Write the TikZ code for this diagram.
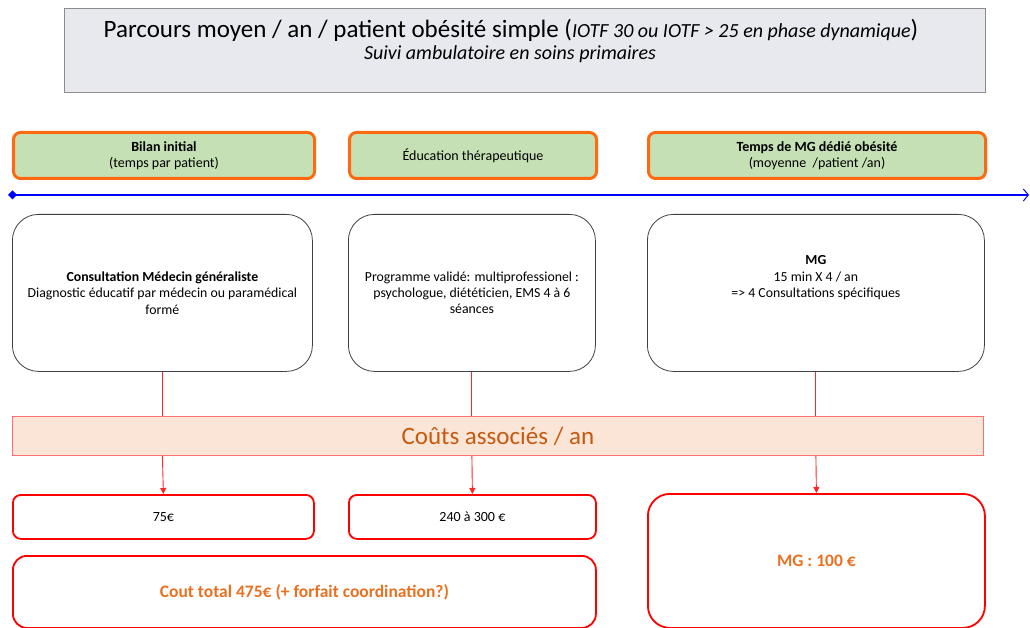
\documentclass[tikz,border=0pt]{standalone}
\usepackage{fontspec}
\setmainfont{Carlito}
\usetikzlibrary{arrows.meta,positioning}
\definecolor{titlefill}{HTML}{E7E9EE}
\definecolor{titledraw}{HTML}{8C8C8C}
\definecolor{greenfill}{HTML}{C5E0B4}
\definecolor{orangedraw}{HTML}{FF6A10}
\definecolor{bandfill}{HTML}{FBE5D6}
\definecolor{banddraw}{HTML}{FF7070}
\definecolor{orangetext}{HTML}{C55A11}
\definecolor{boldorange}{HTML}{E97020}
\definecolor{timeline}{HTML}{0000FF}
\tikzset{
  x=1pt, y=-1pt,
  box/.style={anchor=north west, inner sep=0pt, align=center},
  titlebox/.style={box, fill=titlefill, draw=titledraw, line width=0.8pt},
  greenbox/.style={box, fill=greenfill, draw=orangedraw, line width=3pt, rounded corners=7pt, font=\fontsize{14}{16}\selectfont},
  whitebox/.style={box, draw=black!75, line width=0.8pt, rounded corners=26pt, font=\fontsize{13.8}{16.3}\selectfont},
  costbox/.style={box, draw=red, line width=1.8pt, rounded corners=8pt, font=\fontsize{14}{16}\selectfont},
  bigcost/.style={box, draw=red, line width=1.8pt, rounded corners=22pt, font=\bfseries\fontsize{17.5}{20}\selectfont, text=boldorange},
  band/.style={box, fill=bandfill, draw=banddraw, line width=0.8pt, font=\fontsize{25}{28}\selectfont, text=orangetext},
  link/.style={draw=red!85, line width=0.9pt},
  arr/.style={link, -{Triangle[length=6pt,width=6pt]}},
}
\begin{document}
\begin{tikzpicture}
\useasboundingbox (0,0) rectangle (1030,628);
% title
\node[titlebox, minimum width=921pt, minimum height=84pt] (title) at (64,8) {};
\node[font=\fontsize{25}{28}\selectfont] (t1) at (511,30) {Parcours moyen / an / patient obésité simple ({\itshape\fontsize{20}{22}\selectfont IOTF 30 ou IOTF > 25 en phase dynamique})};
\node[font=\itshape\fontsize{20}{22}\selectfont] (t2) at (510,54) {Suivi ambulatoire en soins primaires};
% green headers
\node[greenbox, minimum width=301pt, minimum height=46pt] (g1) at (12,131) {\textbf{Bilan initial}\\(temps par patient)};
\node[greenbox, minimum width=247pt, minimum height=46pt] (g2) at (348,131) {Éducation thérapeutique};
\node[greenbox, minimum width=337pt, minimum height=46pt] (g3) at (647,131) {\textbf{Temps de MG dédié obésité}\\(moyenne\ \ /patient /an)};
% timeline
\coordinate (tl) at (8,195);
\coordinate (tr) at (1029,195);
\draw[timeline, line width=2.6pt, {Diamond[length=9pt,width=9pt]}-{Straight Barb[length=5pt,width=12pt,line width=1pt]}] (tl) -- (tr);
% white boxes
\node[whitebox, minimum width=300pt, minimum height=157pt] (b1) at (12,214) {\textbf{Consultation Médecin généraliste}\\Diagnostic éducatif par médecin ou paramédical\\formé};
\node[whitebox, minimum width=247pt, minimum height=157pt] (b2) at (348,214) {Programme validé: multiprofessionel :\\psychologue, diététicien, EMS 4 à 6\\séances};
\node[whitebox, minimum width=337pt, minimum height=157pt] (b3) at (647,214) {\textbf{MG}\\15 min X 4 / an\\=> 4 Consultations spécifiques\\[16pt]};
% cost band
\node[band, minimum width=971pt, minimum height=39pt] (band) at (12,416) {Coûts associés / an};
% cost boxes
\node[costbox, minimum width=301pt, minimum height=44pt] (c1) at (12,494) {75€};
\node[costbox, minimum width=247pt, minimum height=44pt] (c2) at (348,494) {240 à 300 €};
\node[bigcost, minimum width=337pt, minimum height=134pt] (c3) at (647,493) {MG : 100 €};
\node[costbox, rounded corners=14pt, font=\bfseries\fontsize{17.5}{20}\selectfont, text=boldorange, minimum width=583pt, minimum height=72pt] (tot) at (12,555) {Cout total 475€ (+ forfait coordination?)};
% connectors
\draw[link] (b1.south) -- (b1.south |- band.north);
\draw[arr] (b1.south |- band.south) -- (c1.north);
\draw[link] (b2.south) -- (b2.south |- band.north);
\draw[arr] (b2.south |- band.south) -- (c2.north);
\draw[link] (b3.south) -- (b3.south |- band.north);
\draw[arr] (b3.south |- band.south) -- (c3.north);
\end{tikzpicture}
\end{document}
